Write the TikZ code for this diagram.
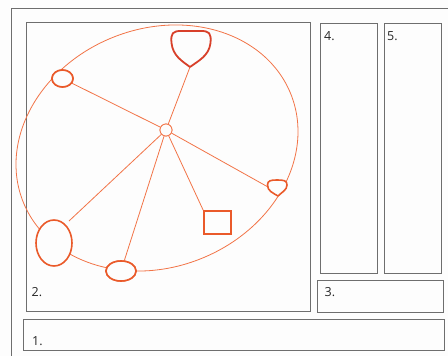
\documentclass[tikz,border=0pt]{standalone}
\usepackage{fontspec}
\setmainfont{Open Sans}
\usetikzlibrary{shapes.geometric}
\definecolor{bg}{HTML}{FDFDFD}
\definecolor{frame}{HTML}{6E6E6E}
\definecolor{orng}{HTML}{EA5A2A}
\definecolor{orngdark}{HTML}{D8402A}
\definecolor{orngthin}{HTML}{F27447}
\tikzset{
  panel/.style={draw=frame, line width=0.9pt},
  lbl/.style={anchor=west, inner sep=0pt, text=black!85, font=\fontsize{12.5}{14}\selectfont},
  thinline/.style={draw=orngthin, line width=0.8pt},
  shapenode/.style={draw=orng, line width=1.6pt, fill=bg, inner sep=0pt},
  hub/.style={circle, draw=orngthin, line width=0.8pt, fill=bg, minimum size=12pt, inner sep=0pt},
}
\begin{document}
\begin{tikzpicture}[x=1pt, y=-1pt]
\useasboundingbox (0,0) rectangle (448,356);
\fill[bg] (0,0) rectangle (448,356);
% outer frame (continues past the right and bottom edges)
\draw[frame, line width=0.9pt] (448,8) -- (11,8) -- (11,356);
% panels
\draw[panel] (26,22) rectangle (310,311);
\draw[panel] (320,23) rectangle (377,273);
\draw[panel] (384,23) rectangle (441,273);
\draw[panel] (317,280) rectangle (443,312);
\draw[panel] (23,319) rectangle (444,350);
\node[lbl] (l2) at (31.5,292.5) {2.};
\node[lbl] (l4) at (324,36.5) {4.};
\node[lbl] (l5) at (387,36.5) {5.};
\node[lbl] (l3) at (324.5,292.5) {3.};
\node[lbl] (l1) at (32,341.5) {1.};
% big orbit ellipse
\draw[thinline, rotate around={22.2:(157,148)}] (157,148) ellipse [x radius=144.3, y radius=119.1];
% named points
\coordinate (toptip) at (190,67);
\coordinate (righttip) at (268,187);
\coordinate (bigend) at (69,221);
\node[hub] (hub) at (166,130) {};
\node[shapenode, ellipse, minimum width=21pt, minimum height=17pt] (lsmall) at (62.5,78.5) {};
\node[shapenode, ellipse, minimum width=36pt, minimum height=46pt] (lbig) at (54,243) {};
\node[shapenode, ellipse, minimum width=30pt, minimum height=20pt] (bell) at (121,271) {};
\node[shapenode, rectangle, minimum width=27pt, minimum height=23pt] (sq) at (217.5,222.5) {};
% spokes
\draw[thinline] (hub) -- (toptip);
\draw[thinline] (hub) -- (lsmall);
\draw[thinline] (hub) -- (righttip);
\draw[thinline] (hub) -- (sq.north west);
\draw[thinline] (hub) -- (bell);
\draw[thinline] (hub) -- (bigend);
% redraw nodes above spokes
\node[shapenode, ellipse, minimum width=21pt, minimum height=17pt] at (lsmall) {};
\node[shapenode, ellipse, minimum width=30pt, minimum height=20pt] at (bell) {};
\node[shapenode, rectangle, minimum width=27pt, minimum height=23pt] at (sq) {};
\node[hub] at (hub) {};
% shield shapes
\draw[draw=orngdark, line width=1.8pt, fill=bg, line join=round]
  (toptip) .. controls (182,61) and (173,56) .. (171.5,43)
  .. controls (170.5,33) and (173,31) .. (181,31) -- (201,31)
  .. controls (209,31) and (211.5,33) .. (210.5,43)
  .. controls (209,56) and (198,61) .. (toptip) -- cycle;
\draw[draw=orng, line width=1.6pt, fill=bg, line join=round]
  (278,196) .. controls (273,193) and (267.5,191) .. (267.5,185)
  .. controls (267.5,180.5) and (271,180) .. (277,180)
  .. controls (284,180) and (287,180.5) .. (287,185)
  .. controls (287,190) and (282,192) .. (278,196) -- cycle;
\end{tikzpicture}
\end{document}
